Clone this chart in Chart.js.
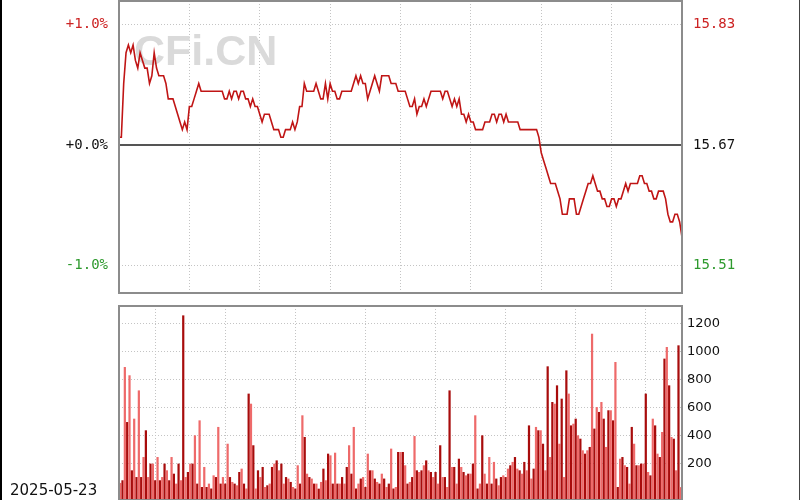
<!DOCTYPE html>
<html>
<head>
<meta charset="utf-8">
<script src="https://cdn.jsdelivr.net/npm/chart.js@4.4.1/dist/chart.umd.min.js"></script>
<style>
  html, body { margin: 0; padding: 0; background: #fff; width: 800px; height: 500px; overflow: hidden; }
  #wrap { position: relative; width: 800px; height: 500px; }
  #priceChart { position: absolute; left: 0; top: 0; }
  #volChart { position: absolute; left: 0; top: 300px; }
  #tradeDate { position: absolute; left: 10px; top: 481px; font: 15px "DejaVu Sans"; color: #111; }
  .edge { position: absolute; top: 0; height: 500px; background: #000; }
</style>
</head>
<body>
<div id="wrap">
  <canvas id="priceChart" width="800" height="295"></canvas>
  <canvas id="volChart" width="800" height="200"></canvas>
  <div id="tradeDate"></div>
  <div class="edge" style="left:0;width:2px"></div>
  <div class="edge" style="left:799px;width:1px;background:#444"></div>
</div>
<script>
// 2025-05-23 intraday, one value per minute (09:30 .. 15:00)
const tradeDate = '2025-05-23'
const prevClose = 15.67

const prices = [
  15.68, 15.68, 15.75, 15.79, 15.80, 15.79, 15.80, 15.78, 15.77, 15.79,
  15.78, 15.77, 15.77, 15.75, 15.76, 15.79, 15.77, 15.76, 15.76, 15.76,
  15.75, 15.73, 15.73, 15.73, 15.72, 15.71, 15.70, 15.69, 15.70, 15.69,
  15.72, 15.72, 15.73, 15.74, 15.75, 15.74, 15.74, 15.74, 15.74, 15.74,
  15.74, 15.74, 15.74, 15.74, 15.74, 15.73, 15.73, 15.74, 15.73, 15.74,
  15.74, 15.73, 15.74, 15.74, 15.73, 15.73, 15.72, 15.73, 15.72, 15.72,
  15.71, 15.70, 15.71, 15.71, 15.71, 15.70, 15.69, 15.69, 15.69, 15.68,
  15.68, 15.69, 15.69, 15.69, 15.70, 15.69, 15.70, 15.72, 15.72, 15.75,
  15.74, 15.74, 15.74, 15.74, 15.75, 15.74, 15.73, 15.73, 15.75, 15.73,
  15.75, 15.74, 15.74, 15.73, 15.73, 15.74, 15.74, 15.74, 15.74, 15.74,
  15.75, 15.76, 15.75, 15.76, 15.75, 15.75, 15.73, 15.74, 15.75, 15.76,
  15.75, 15.74, 15.76, 15.76, 15.76, 15.76, 15.75, 15.75, 15.75, 15.74,
  15.74, 15.74, 15.74, 15.73, 15.72, 15.72, 15.73, 15.71, 15.72, 15.72,
  15.73, 15.72, 15.73, 15.74, 15.74, 15.74, 15.74, 15.74, 15.73, 15.74,
  15.74, 15.73, 15.72, 15.73, 15.72, 15.73, 15.71, 15.71, 15.70, 15.71,
  15.70, 15.70, 15.69, 15.69, 15.69, 15.69, 15.70, 15.70, 15.70, 15.71,
  15.71, 15.70, 15.71, 15.71, 15.70, 15.71, 15.70, 15.70, 15.70, 15.70,
  15.70, 15.69, 15.69, 15.69, 15.69, 15.69, 15.69, 15.69, 15.69, 15.68,
  15.66, 15.65, 15.64, 15.63, 15.62, 15.62, 15.62, 15.61, 15.60, 15.58,
  15.58, 15.58, 15.60, 15.60, 15.60, 15.58, 15.58, 15.59, 15.60, 15.61,
  15.62, 15.62, 15.63, 15.62, 15.61, 15.61, 15.60, 15.60, 15.59, 15.59,
  15.60, 15.60, 15.59, 15.60, 15.60, 15.61, 15.62, 15.61, 15.62, 15.62,
  15.62, 15.62, 15.63, 15.63, 15.62, 15.62, 15.61, 15.61, 15.60, 15.60,
  15.61, 15.61, 15.61, 15.60, 15.58, 15.57, 15.57, 15.58, 15.58, 15.57,
  15.55
]

const volumes = [
  60, 79, 888, 495, 829, 150, 519, 102, 721, 102,
  245, 436, 102, 198, 198, 79, 245, 79, 102, 198,
  150, 79, 245, 126, 55, 198, 79, 1257, 102, 138,
  198, 198, 400, 55, 507, 31, 174, 31, 55, 20,
  114, 102, 460, 55, 102, 55, 340, 102, 67, 55,
  43, 138, 162, 55, 20, 698, 626, 329, 20, 150,
  102, 174, 31, 43, 55, 174, 198, 221, 150,
  198, 55, 102, 91, 67, 31, 20, 186, 55, 543,
  388, 126, 102, 91, 55, 55, 19, 67, 162, 79,
  269, 257, 55, 276, 55, 55, 102, 55, 174, 329,
  126, 460, 20, 55, 91, 102, 31, 269, 150, 150,
  91, 67, 55, 126, 91, 31, 55, 305, 20, 31,
  281, 281, 281, 186, 55, 67, 102, 395, 150, 138,
  150, 186, 221, 150, 138, 102, 138, 55, 329, 102,
  102, 31, 721, 174, 174, 55, 233, 174, 138, 114,
  126, 126, 198, 543, 20, 55, 400, 126, 55, 245,
  55, 210, 91, 43, 102, 114, 102, 162, 186, 210,
  245, 162, 150, 126, 210, 150, 471, 91, 162, 460,
  436, 436, 340, 150, 893, 245, 638, 626, 757, 340,
  662, 102, 864, 698, 471, 483, 519, 400, 376, 293,
  269, 293, 317, 1126, 448, 602, 567, 638, 519, 317,
  579, 579, 507, 924, 31, 233, 245, 186, 174, 55,
  460, 340, 186, 186, 198, 198, 698, 138, 114, 519,
  471, 269, 245, 424, 948, 1031, 757, 388, 376, 150,
  1043, 30
]

const pctTicks = [1, 0, -1]
const volTicks = [200, 400, 600, 800, 1000, 1200]

// minute labels: 09:30-11:30, 13:01-15:00
const times = []
for (let i = 0; i < prices.length; i++) {
  let m = i <= 120 ? 570 + i : 780 + (i - 120)
  times.push(String(Math.floor(m / 60)).padStart(2, '0') + ':' + String(m % 60).padStart(2, '0'))
}

const pctData = prices.map(p => (p / prevClose - 1) * 100)

const gridGray = '#c4c4c4'
const tickColor = v => v > 0.001 ? '#cc2222' : (v < -0.001 ? '#2e9a2e' : '#111')
const everyHalfHour = scale => {
  scale.ticks = scale.ticks.filter(t => t.value % 30 === 0 && t.value > 0 && t.value < 240)
}
// fixed axis width, and no extra room kept for the tick labels above/below
const fitY = w => s => {
  s.width = w
  s.paddingTop = 0
  s.paddingBottom = 0
}

// draws the grey box round the plot area
const frame = {
  id: 'frame',
  afterDatasetsDraw(chart) {
    const a = chart.chartArea, ctx = chart.ctx
    ctx.save()
    ctx.strokeStyle = '#8c8c8c'
    ctx.lineWidth = 2
    ctx.strokeRect(a.left, a.top, a.right - a.left, a.bottom - a.top)
    ctx.restore()
  }
}

const watermark = {
  id: 'watermark',
  beforeDatasetsDraw(chart) {
    const ctx = chart.ctx
    ctx.save()
    ctx.font = 'bold 43px "Liberation Sans"'
    ctx.fillStyle = '#dadada'
    ctx.textBaseline = 'alphabetic'
    ctx.fillText('CFi.CN', 134, 65)
    ctx.restore()
  }
}

new Chart('priceChart', {
  type: 'line',
  data: {
    labels: times,
    datasets: [{
      data: pctData,
      borderColor: '#c01515',
      borderWidth: 1.6,
      pointRadius: 0,
      tension: 0,
      yAxisID: 'yL'
    }]
  },
  options: {
    responsive: false,
    animation: false,
    devicePixelRatio: 1,
    layout: { padding: { top: 1, bottom: 2, left: 0, right: 0 } },
    plugins: { legend: { display: false }, tooltip: { enabled: false } },
    scales: {
      x: {
        type: 'category',
        ticks: { display: false },
        grid: { color: gridGray, drawTicks: false },
        border: { display: false, dash: [1, 2] },
        afterBuildTicks: everyHalfHour,
        afterFit: s => { s.height = 0 }
      },
      yL: {
        position: 'left',
        min: -1.228, max: 1.195,
        afterBuildTicks: s => { s.ticks = pctTicks.map(v => ({ value: v })) },
        afterFit: fitY(119),
        ticks: {
          padding: 11,
          font: { family: '"DejaVu Sans Mono"', size: 14 },
          color: c => tickColor(c.tick.value),
          callback: v => (v < 0 ? '-' : '+') + Math.abs(v).toFixed(1) + '%'
        },
        grid: {
          drawTicks: false,
          color: c => c.tick && c.tick.value === 0 ? '#555' : gridGray,
          lineWidth: c => c.tick && c.tick.value === 0 ? 2 : 1
        },
        border: { display: false, dash: c => c.tick && c.tick.value === 0 ? [] : [1, 2] }
      },
      yR: {
        position: 'right',
        min: -1.228, max: 1.195,
        afterBuildTicks: s => { s.ticks = pctTicks.map(v => ({ value: v })) },
        afterFit: fitY(118),
        ticks: {
          padding: 3,
          font: { family: '"DejaVu Sans Mono"', size: 14 },
          color: c => tickColor(c.tick.value),
          callback: v => (prevClose * (1 + v / 100)).toFixed(2)
        },
        grid: { display: false },
        border: { display: false }
      }
    }
  },
  plugins: [watermark, frame]
})

const volMin = -62

new Chart('volChart', {
  type: 'bar',
  data: {
    labels: times,
    datasets: [{
      data: volumes,
      base: volMin,
      backgroundColor: c => c.dataIndex % 2 ? '#a80c0c' : '#ee6a6a',
      barPercentage: 0.95,
      categoryPercentage: 1
    }]
  },
  options: {
    responsive: false,
    animation: false,
    devicePixelRatio: 1,
    layout: { padding: { top: 6, bottom: 0, left: 119, right: 0 } },
    plugins: { legend: { display: false }, tooltip: { enabled: false } },
    scales: {
      x: {
        type: 'category',
        ticks: { display: false },
        grid: { color: gridGray, drawTicks: false, offset: true },
        border: { display: false, dash: [1, 2] },
        afterBuildTicks: everyHalfHour,
        afterFit: s => { s.height = 0 }
      },
      y: {
        position: 'right',
        min: volMin, max: 1324,
        afterBuildTicks: s => { s.ticks = volTicks.map(v => ({ value: v })) },
        afterFit: fitY(118),
        ticks: {
          padding: 5,
          font: { family: '"DejaVu Sans"', size: 13 },
          color: '#111',
          callback: v => String(v)
        },
        grid: { color: gridGray, drawTicks: false },
        border: { display: false, dash: [1, 2] }
      }
    }
  },
  plugins: [frame]
})

document.getElementById('tradeDate').textContent = tradeDate
</script>
</body>
</html>
